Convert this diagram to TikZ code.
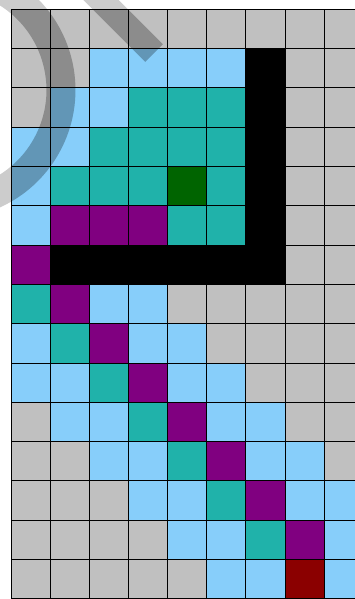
\documentclass[tikz,border=0pt]{standalone}
\usepackage{xcolor}
\usepackage{tikz}
\usetikzlibrary{shapes,positioning}

\definecolor{gr}{RGB}{192,192,192}
\definecolor{az}{RGB}{135,206,250}
\definecolor{te}{RGB}{32,178,170}
\definecolor{vi}{RGB}{128,0,128}
\definecolor{ne}{RGB}{0,0,0}
\definecolor{ve}{RGB}{0,100,0}
\definecolor{ro}{RGB}{139,0,0}

\begin{document}
\begin{tikzpicture}[x=39.16pt, y=-39.3pt]
    % Stili
    \tikzstyle{cella}=[rectangle, draw=black, line width=1pt, minimum width=39.16pt, minimum height=39.3pt, inner sep=0pt, outer sep=0pt]
    \tikzstyle{ombra}=[line width=29pt, black, opacity=0.27]

    \useasboundingbox (0,0) rectangle (9.065,15.242);
    \clip (0,0) rectangle (9.065,15.242);

    % Ombra sul bordo
    \draw [ombra, opacity=0.2] (-1.353,2.29) ++(-60:2.91) arc (-60:100:2.91);
    \draw [ombra, opacity=0.2, line width=25pt] (2.324,-0.254) -- (3.933,1.349);

    % Celle
    \foreach \riga [count=\r from 0] in {
        {gr,gr,gr,gr,gr,gr,gr,gr,gr},
        {gr,gr,az,az,az,az,ne,gr,gr},
        {gr,az,az,te,te,te,ne,gr,gr},
        {az,az,te,te,te,te,ne,gr,gr},
        {az,te,te,te,ve,te,ne,gr,gr},
        {az,vi,vi,vi,te,te,ne,gr,gr},
        {vi,ne,ne,ne,ne,ne,ne,gr,gr},
        {te,vi,az,az,gr,gr,gr,gr,gr},
        {az,te,vi,az,az,gr,gr,gr,gr},
        {az,az,te,vi,az,az,gr,gr,gr},
        {gr,az,az,te,vi,az,az,gr,gr},
        {gr,gr,az,az,te,vi,az,az,gr},
        {gr,gr,gr,az,az,te,vi,az,az},
        {gr,gr,gr,gr,az,az,te,vi,az},
        {gr,gr,gr,gr,gr,az,az,ro,az}} {
        \foreach \col [count=\c from 0] in \riga {
            \node (c-\r-\c) [cella, fill=\col] at ({\c+0.781},{\r+0.737}) {};
        }
    }

    % Ombra sulla griglia
    \begin{scope}
        \clip (0.281,0.237) rectangle (9.065,15.242);
        \draw [ombra] (-1.353,2.29) ++(-60:2.91) arc (-60:100:2.91);
        \draw [ombra, line width=25pt] (2.324,-0.254) -- (3.933,1.349);
    \end{scope}

\end{tikzpicture}
\end{document}
